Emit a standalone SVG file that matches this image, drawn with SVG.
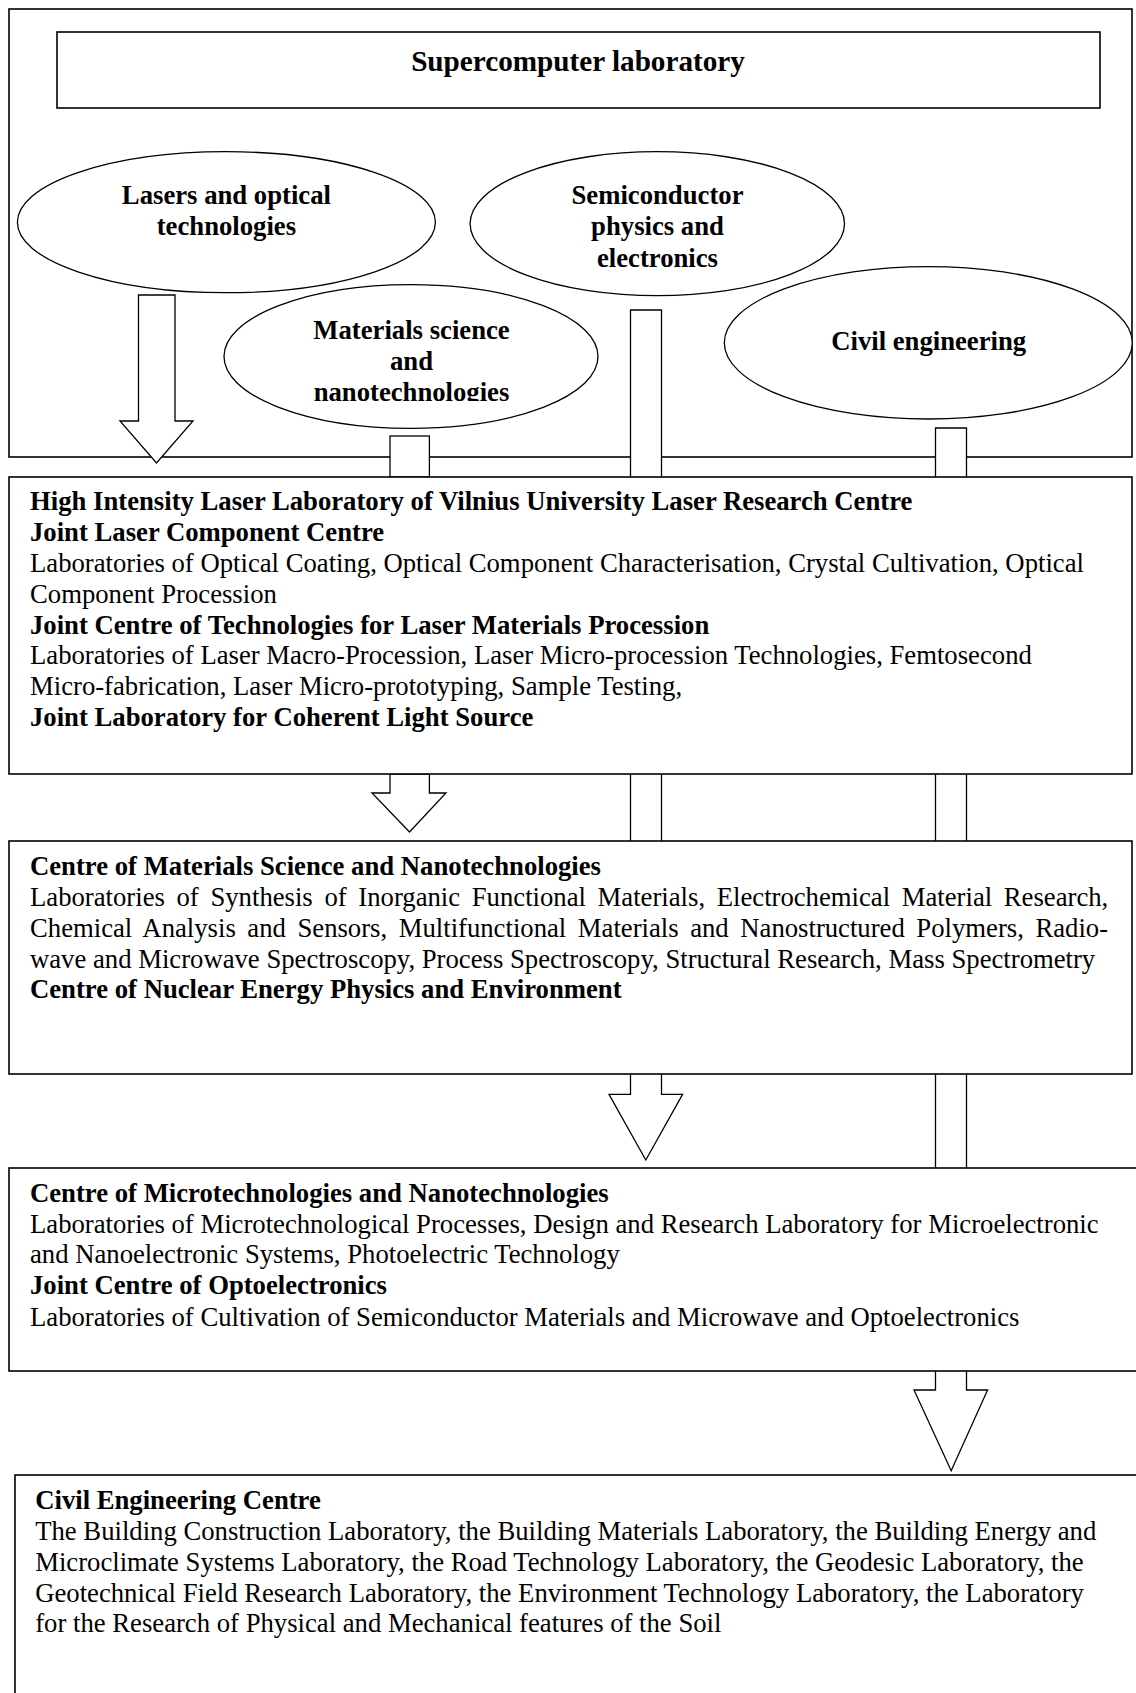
<svg xmlns="http://www.w3.org/2000/svg" width="1136" height="1693" viewBox="0 0 1136 1693">
<style>
  .box { fill: #fff; stroke: #000; stroke-width: 1.6; }
  .ell { fill: #fff; stroke: #000; stroke-width: 1.3; }
  .conn { fill: #fff; stroke: #000; stroke-width: 1.3; stroke-linejoin: miter; }
  text { font-family: "Liberation Serif", "Times New Roman", serif; fill: #000; }
  .t { font-size: 26.7px; }
  .b { font-weight: bold; }
  .title { font-size: 29.2px; font-weight: bold; }
  .ctr { text-anchor: middle; }
</style>
<defs>
  <clipPath id="clipMat">
    <rect x="220" y="280" width="380" height="121"/>
  </clipPath>
</defs>
<rect x="0" y="0" width="1136" height="1693" fill="#fff"/>

<g id="frame">
  <rect class="box" x="9" y="9" width="1123" height="448"/>
</g>

<g id="supercomputer">
  <rect class="box" x="57" y="32" width="1043" height="76"/>
  <text class="title ctr" x="578" y="71">Supercomputer laboratory</text>
</g>

<g id="lasers">
  <ellipse class="ell" cx="226.4" cy="222.2" rx="209" ry="70.5"/>
  <text class="t b ctr"><tspan x="226.4" y="204">Lasers and optical</tspan><tspan x="226.4" y="235">technologies</tspan></text>
</g>

<g id="semiconductor">
  <ellipse class="ell" cx="657.3" cy="223.7" rx="187.2" ry="72"/>
  <text class="t b ctr"><tspan x="657.5" y="204">Semiconductor</tspan><tspan x="657.5" y="235">physics and</tspan><tspan x="657.5" y="267">electronics</tspan></text>
</g>

<g id="materials">
  <ellipse class="ell" cx="411" cy="356.5" rx="187" ry="71.8"/>
  <text class="t b ctr" clip-path="url(#clipMat)"><tspan x="411.5" y="338.5">Materials science</tspan><tspan x="411.5" y="369.5">and</tspan><tspan x="411.5" y="400.5">nanotechnologies</tspan></text>
</g>

<g id="civil">
  <ellipse class="ell" cx="928.3" cy="342.8" rx="204" ry="76.2"/>
  <text class="t b ctr" x="928.7" y="350">Civil engineering</text>
</g>

<g id="connectors">
  <polygon class="conn" points="138.5,295 175,295 175,421 193,421 156.5,463 120,421 138.5,421"/>
  <rect class="conn" x="390" y="436" width="39.4" height="41"/>
  <polygon class="conn" points="390,774 429.4,774 429.4,793 446,793 409.5,832 372,793 390,793"/>
  <polygon class="conn" points="630.5,310 661.5,310 661.5,1094.3 682.6,1094.3 645.8,1160 609,1094.3 630.5,1094.3"/>
  <polygon class="conn" points="935.5,428 966.5,428 966.5,1390 987.6,1390 951.2,1470.7 914,1390 935.5,1390"/>
</g>

<g id="laser-centres">
  <rect class="box" x="9" y="477" width="1123" height="297"/>
  <text class="t">
    <tspan class="b" x="30" y="510">High Intensity Laser Laboratory of Vilnius University Laser Research Centre</tspan>
    <tspan class="b" x="30" y="541">Joint Laser Component Centre</tspan>
    <tspan x="30" y="572">Laboratories of Optical Coating, Optical Component Characterisation, Crystal Cultivation, Optical</tspan>
    <tspan x="30" y="603">Component Procession</tspan>
    <tspan class="b" x="30" y="633.5">Joint Centre of Technologies for Laser Materials Procession</tspan>
    <tspan x="30" y="664">Laboratories of Laser Macro-Procession, Laser Micro-procession Technologies, Femtosecond</tspan>
    <tspan x="30" y="695">Micro-fabrication, Laser Micro-prototyping, Sample Testing,</tspan>
    <tspan class="b" x="30" y="726">Joint Laboratory for Coherent Light Source</tspan>
  </text>
</g>

<g id="materials-centres">
  <rect class="box" x="9" y="841" width="1123" height="233"/>
  <text class="t">
    <tspan class="b" x="30" y="875">Centre of Materials Science and Nanotechnologies</tspan>
    <tspan x="30" y="906" word-spacing="5">Laboratories of Synthesis of Inorganic Functional Materials, Electrochemical Material Research,</tspan>
    <tspan x="30" y="936.7" word-spacing="4.9">Chemical Analysis and Sensors, Multifunctional Materials and Nanostructured Polymers, Radio-</tspan>
    <tspan x="30" y="967.5">wave and Microwave Spectroscopy, Process Spectroscopy, Structural Research, Mass Spectrometry</tspan>
    <tspan class="b" x="30" y="998.3">Centre of Nuclear Energy Physics and Environment</tspan>
  </text>
</g>

<g id="micro-centres">
  <rect class="box" x="9" y="1168" width="1140" height="203"/>
  <text class="t">
    <tspan class="b" x="30" y="1201.7">Centre of Microtechnologies and Nanotechnologies</tspan>
    <tspan x="30" y="1232.7">Laboratories of Microtechnological Processes, Design and Research Laboratory for Microelectronic</tspan>
    <tspan x="30" y="1263.3">and Nanoelectronic Systems, Photoelectric Technology</tspan>
    <tspan class="b" x="30" y="1294.3">Joint Centre of Optoelectronics</tspan>
    <tspan x="30" y="1325.7">Laboratories of Cultivation of Semiconductor Materials and Microwave and Optoelectronics</tspan>
  </text>
</g>

<g id="civil-centre">
  <rect class="box" x="15" y="1475" width="1140" height="240"/>
  <text class="t">
    <tspan class="b" x="35.2" y="1509.3">Civil Engineering Centre</tspan>
    <tspan x="35.2" y="1540">The Building Construction Laboratory, the Building Materials Laboratory, the Building Energy and</tspan>
    <tspan x="35.2" y="1570.7">Microclimate Systems Laboratory, the Road Technology Laboratory, the Geodesic Laboratory, the</tspan>
    <tspan x="35.2" y="1601.5">Geotechnical Field Research Laboratory, the Environment Technology Laboratory, the Laboratory</tspan>
    <tspan x="35.2" y="1632">for the Research of Physical and Mechanical features of the Soil</tspan>
  </text>
</g>
</svg>
